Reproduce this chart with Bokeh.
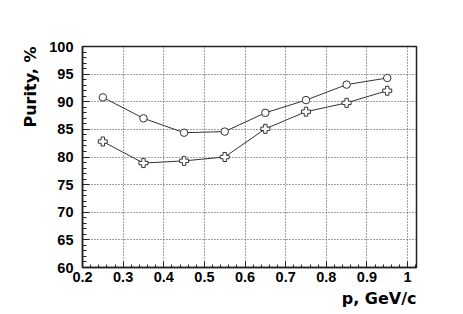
from bokeh.plotting import figure
from bokeh.models import FixedTicker, CustomJSTickFormatter, Range1d, Title
from bokeh.embed import file_html
from bokeh.resources import INLINE

# ---- data ----
p_values = [0.25, 0.35, 0.45, 0.55, 0.65, 0.75, 0.85, 0.95]
purity_circle = [90.8, 87.0, 84.4, 84.6, 88.0, 90.3, 93.1, 94.3]
purity_cross = [82.8, 78.9, 79.3, 80.0, 85.1, 88.2, 89.8, 92.0]

x_major_ticks = [0.2, 0.3, 0.4, 0.5, 0.6, 0.7, 0.8, 0.9, 1.0]
x_minor_ticks = [round(0.2 + 0.02 * i, 2) for i in range(42)]
y_major_ticks = [60, 65, 70, 75, 80, 85, 90, 95, 100]
y_minor_ticks = list(range(60, 101))

x_title = "p, GeV/c"
y_title = "Purity, %"

FONT = "Liberation Sans"
TITLE_FONT = "DejaVu Sans"

p = figure(width=455, height=314, output_backend="svg", toolbar_location=None,
           x_range=Range1d(0.2, 1.022), y_range=Range1d(60, 100),
           min_border_left=82, min_border_right=39, min_border_top=46, min_border_bottom=47)
p.background_fill_color = "white"
p.border_fill_color = "white"
p.outline_line_color = "#222222"
p.outline_line_width = 1.5

# grids
for g in (p.xgrid, p.ygrid):
    g.grid_line_color = "#444444"
    g.grid_line_dash = "1 2"
    g.grid_line_width = 1

p.xaxis.ticker = FixedTicker(ticks=x_major_ticks, minor_ticks=x_minor_ticks)
p.yaxis.ticker = FixedTicker(ticks=y_major_ticks, minor_ticks=y_minor_ticks)
p.xaxis.formatter = CustomJSTickFormatter(code="return tick.toFixed(1).replace(/\\.0$/, '');")

for ax in (p.xaxis[0], p.yaxis[0]):
    ax.axis_line_color = "#222222"
    ax.axis_line_width = 1.5
    ax.major_tick_out = 0
    ax.minor_tick_out = 0
    ax.major_tick_line_color = "#222222"
    ax.minor_tick_line_color = "#222222"
    ax.major_label_text_font = FONT
    ax.major_label_text_font_style = "bold"
    ax.major_label_text_font_size = "14.5px"
    ax.major_label_text_color = "black"

p.xaxis.major_tick_in = 6
p.xaxis.minor_tick_in = 3
p.yaxis.major_tick_in = 7
p.yaxis.minor_tick_in = 4
p.yaxis.major_label_standoff = 9
p.xaxis.major_label_standoff = 4

# axis titles, ROOT style: right-aligned to the end of each axis
p.add_layout(Title(text=x_title, align="right", text_font=TITLE_FONT,
                   text_font_style="bold", text_font_size="16px", text_color="black",
                   standoff=4, offset=0), "below")
p.add_layout(Title(text=y_title, align="right", text_font=TITLE_FONT,
                   text_font_style="bold", text_font_size="16px", text_color="black",
                   standoff=14, offset=0), "left")

# series
p.line(p_values, purity_circle, line_color="#333333", line_width=1)
p.scatter(p_values, purity_circle, marker="circle", size=7.5, fill_color="white",
          line_color="#333333", line_width=1)
p.line(p_values, purity_cross, line_color="#333333", line_width=1)
p.scatter(p_values, purity_cross, marker="plus", size=9, fill_color="white",
          line_color="#333333", line_width=1)

open("out.html", "w").write(file_html(p, INLINE))
